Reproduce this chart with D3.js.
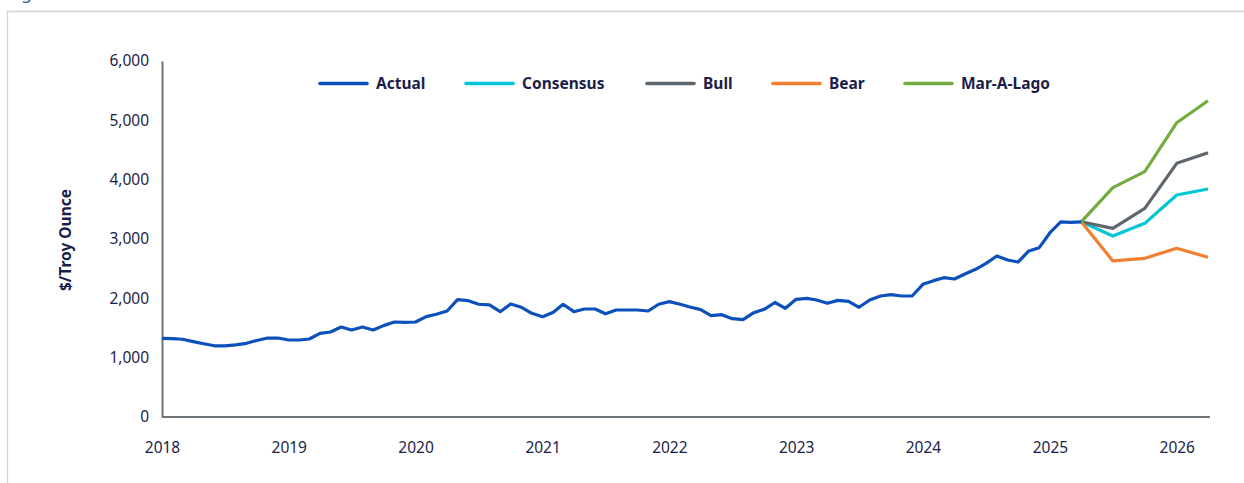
<!DOCTYPE html>
<html><head><meta charset="utf-8">
<script src="https://cdn.jsdelivr.net/npm/d3@7"></script>
<style>
html,body{margin:0;padding:0;background:#fff;}
svg{display:block;}
text{font-family:"Noto Sans",sans-serif;}
</style></head>
<body>
<svg id="chart" width="1244" height="483"></svg>
<script>
// ---- data ----
const actualStart = "2018-01";
const actualValues = [
  1326,1322,1310,1270,1235,1200,1198,1215,1242,1290,1331,1331,
  1298,1298,1315,1410,1433,1517,1466,1517,1466,1540,1601,1595,
  1601,1691,1731,1787,1977,1960,1900,1890,1775,1905,1849,1748,
  1691,1765,1900,1775,1820,1820,1741,1803,1803,1803,1787,1900,
  1944,1900,1854,1809,1708,1725,1657,1640,1758,1815,1930,1832,
  1983,2000,1972,1916,1966,1950,1849,1972,2039,2062,2039,2039,
  2236,2298,2348,2326,2410,2489,2590,2714,2646,2612,2798,2854,
  3106,3290,3280,3290
];
const forecastDates = ["2025-04","2025-07","2025-10","2026-01","2026-04"];
const consensus = [3290,3050,3264,3742,3843];
const bull      = [3290,3180,3517,4275,4455];
const bear      = [3290,2630,2675,2843,2692];
const marALago  = [3290,3865,4135,4960,5330];
const yTicks = [0,1000,2000,3000,4000,5000,6000];
const xTickYears = ["2018","2019","2020","2021","2022","2023","2024","2025","2026"];
const legendNames = ["Actual","Consensus","Bull","Bear","Mar-A-Lago"];
const colors = {Actual:"#0b50bb",Consensus:"#00c6d6",Bull:"#5e666e",Bear:"#f08030","Mar-A-Lago":"#72ab3e"};

// ---- layout ----
const svg = d3.select("#chart");
const parseM = d3.timeParse("%Y-%m");
const parseY = d3.timeParse("%Y");
const x = d3.scaleTime().domain([parseM("2018-01"), parseM("2026-04")]).range([162, 1208]);
const y = d3.scaleLinear().domain([0, 6000]).range([417, 61]);
const textCol = "#1b1e48";
const axisCol = "#6d757b";

// frame
svg.append("path").attr("d","M7.5,483 V11.5 H1244").attr("fill","none").attr("stroke","#d3d3d8").attr("stroke-width",1.3);
// cut-off heading (only the descender shows, as in the reference)
svg.append("text").attr("x",8).attr("y",-1).attr("font-size",17).attr("fill","#2a5aa8").text("Figure");

// y axis
const yAxis = svg.append("g").attr("transform","translate(162,0)")
  .call(d3.axisLeft(y).tickValues(yTicks).tickSize(0).tickPadding(13).tickFormat(d3.format(",")));
yAxis.select(".domain").attr("stroke",axisCol).attr("stroke-width",2);
yAxis.selectAll("text").attr("font-size",15.5).attr("fill",textCol).style("font-family","Noto Sans");

// x axis
const xAxis = svg.append("g").attr("transform","translate(0,417)")
  .call(d3.axisBottom(x).tickValues(xTickYears.map(parseY)).tickSize(0).tickPadding(25).tickFormat(d3.timeFormat("%Y")));
xAxis.select(".domain").attr("stroke",axisCol).attr("stroke-width",2).attr("d","M162,0H1210");
xAxis.selectAll("text").attr("font-size",15.5).attr("fill",textCol).style("font-family","Noto Sans");

// y label
svg.append("text").attr("transform","translate(71,240) rotate(-90)").attr("text-anchor","middle")
  .attr("font-size",15.5).attr("font-weight","bold").attr("fill",textCol).text("$/Troy Ounce");

// series
const line = d3.line().x(d=>x(d.date)).y(d=>y(d.v));
const start = parseM(actualStart);
const actualData = actualValues.map((v,i)=>({date:d3.timeMonth.offset(start,i), v}));
const fd = forecastDates.map(parseM);
const scen = [["Consensus",consensus],["Bull",bull],["Bear",bear],["Mar-A-Lago",marALago]];
scen.forEach(([name,vals])=>{
  svg.append("path").datum(vals.map((v,i)=>({date:fd[i],v})))
    .attr("d",line).attr("fill","none").attr("stroke",colors[name]).attr("stroke-width",3.2)
    .attr("stroke-linejoin","round");
});
svg.append("path").datum(actualData).attr("d",line).attr("fill","none")
  .attr("stroke",colors.Actual).attr("stroke-width",3.2).attr("stroke-linejoin","round");

// legend
const legendX = [320,466,647,773,905];
const lg = svg.append("g");
legendNames.forEach((n,i)=>{
  lg.append("line").attr("x1",legendX[i]).attr("x2",legendX[i]+47).attr("y1",83.5).attr("y2",83.5)
    .attr("stroke",colors[n]).attr("stroke-width",3.6).attr("stroke-linecap","round");
  lg.append("text").attr("x",legendX[i]+56).attr("y",84).attr("dy","0.35em")
    .attr("font-size",15.5).attr("font-weight","bold").attr("fill",textCol).text(n);
});
</script>
</body></html>
